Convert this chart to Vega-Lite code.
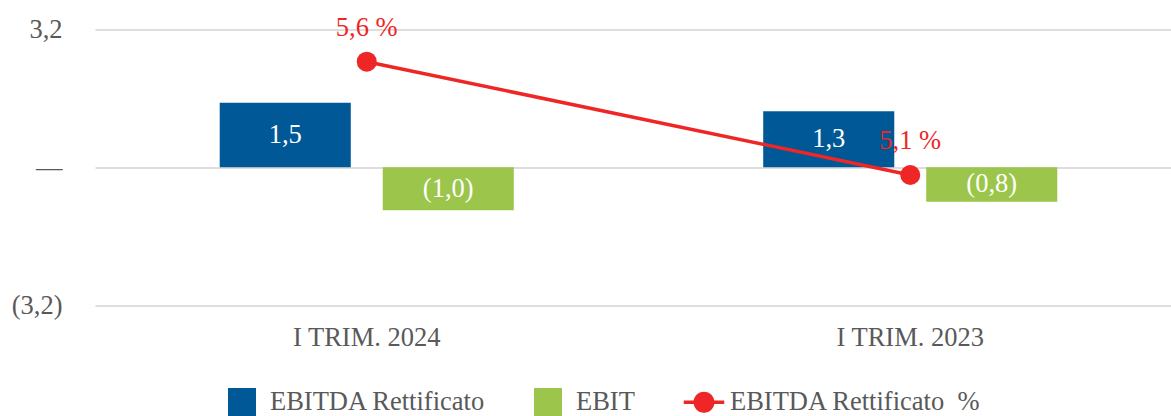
{
  "$schema": "https://vega.github.io/schema/vega-lite/v6.json",
  "width": 1076,
  "height": 275.5,
  "autosize": {"type": "none"},
  "padding": {"left": 95, "top": 29.5, "right": 0, "bottom": 111},
  "background": "white",
  "config": {
    "view": {"stroke": null},
    "font": "Liberation Serif",
    "axis": {"labelFont": "Liberation Serif", "labelFontSize": 26.5, "labelColor": "#595959"}
  },
  "datasets": {
    "bars": [
      {"periodo": "I TRIM. 2024", "serie": "EBITDA Rettificato", "valore": 1.5, "etichetta": "1,5"},
      {"periodo": "I TRIM. 2024", "serie": "EBIT", "valore": -1.0, "etichetta": "(1,0)"},
      {"periodo": "I TRIM. 2023", "serie": "EBITDA Rettificato", "valore": 1.3, "etichetta": "1,3"},
      {"periodo": "I TRIM. 2023", "serie": "EBIT", "valore": -0.8, "etichetta": "(0,8)"}
    ],
    "margine": [
      {"periodo": "I TRIM. 2024", "pct": 5.6, "etichetta": "5,6 %"},
      {"periodo": "I TRIM. 2023", "pct": 5.1, "etichetta": "5,1 %"}
    ]
  },
  "layer": [
    {
      "data": {"name": "bars"},
      "layer": [
        {
          "mark": {"type": "bar"},
          "encoding": {
            "x": {
              "field": "periodo", "type": "nominal",
              "sort": ["I TRIM. 2024", "I TRIM. 2023"],
              "scale": {"range": [0, 1087], "paddingInner": 0, "paddingOuter": 0},
              "axis": {"title": null, "domain": false, "ticks": false, "tickSize": 0, "labelPadding": 40, "labelBaseline": "alphabetic", "labelAngle": 0, "labelLimit": 400}
            },
            "xOffset": {
              "field": "serie", "type": "nominal",
              "sort": ["EBITDA Rettificato", "EBIT"],
              "scale": {"paddingInner": 0.196, "paddingOuter": 0.765}
            },
            "y": {
              "field": "valore", "type": "quantitative",
              "scale": {"domain": [-3.2, 3.2], "nice": false, "zero": true},
              "axis": {
                "title": null, "domain": false, "ticks": false, "tickSize": 0,
                "values": [-3.2, 0, 3.2],
                "labelPadding": 33,
                "grid": true, "gridColor": "#dedede", "gridWidth": 2,
                "labelExpr": "datum.value == 0 ? '—' : (datum.value > 0 ? replace(format(datum.value, '.1f'), '.', ',') : '(' + replace(format(-datum.value, '.1f'), '.', ',') + ')')"
              }
            },
            "color": {
              "field": "serie", "type": "nominal",
              "scale": {
                "domain": ["EBITDA Rettificato", "EBIT", "EBITDA Rettificato \u00a0%"],
                "range": ["#005896", "#9BC64B", "#EE2625"]
              },
              "legend": {
                "title": null,
                "orient": "none",
                "legendX": 133,
                "legendY": 358.5,
                "direction": "horizontal",
                "padding": 0,
                "symbolSize": 784,
                "symbolStrokeWidth": 0,
                "labelFont": "Liberation Serif",
                "labelFontSize": 26.5,
                "labelColor": "#595959",
                "labelLimit": 400,
                "labelOffset": 14,
                "columnPadding": 48,
                "encode": {
                  "symbols": {
                    "update": {
                      "shape": {"signal": "indexof(datum.label, '%') >= 0 ? 'M-1.45,-0.12L1.45,-0.12L1.45,0.12L-1.45,0.12Z M-0.75,0A0.75,0.75 0 1,1 0.75,0A0.75,0.75 0 1,1 -0.75,0Z' : 'square'"},
                      "fill": {"signal": "indexof(datum.label, '%') >= 0 ? '#EE2625' : (datum.label == 'EBIT' ? '#9BC64B' : '#005896')"},
                      "strokeWidth": {"value": 0},
                      "x": {"signal": "indexof(datum.label, '%') >= 0 ? 7 : 14"}
                    }
                  },
                  "labels": {
                    "update": {
                      "dx": {"signal": "indexof(datum.label, '%') >= 0 ? -9 : 0"}
                    }
                  }
                }
              }
            }
          }
        },
        {
          "mark": {"type": "text", "color": "white", "font": "Liberation Serif", "fontSize": 26.5, "baseline": "middle", "align": "center"},
          "encoding": {
            "x": {"field": "periodo", "type": "nominal", "sort": ["I TRIM. 2024", "I TRIM. 2023"]},
            "xOffset": {"field": "serie", "type": "nominal", "sort": ["EBITDA Rettificato", "EBIT"]},
            "y": {"field": "valore", "type": "quantitative", "stack": "zero", "bandPosition": 0.5},
            "text": {"field": "etichetta"}
          }
        }
      ]
    },
    {
      "data": {"name": "margine"},
      "layer": [
        {
          "mark": {"type": "line", "color": "#EE2625", "strokeWidth": 3.5},
          "encoding": {
            "x": {"field": "periodo", "type": "nominal", "sort": ["I TRIM. 2024", "I TRIM. 2023"]},
            "y": {"field": "pct", "type": "quantitative", "scale": {"domain": [4.526, 5.742], "nice": false, "zero": false}, "axis": null}
          }
        },
        {
          "mark": {"type": "point", "filled": true, "color": "#EE2625", "opacity": 1, "size": 400},
          "encoding": {
            "x": {"field": "periodo", "type": "nominal", "sort": ["I TRIM. 2024", "I TRIM. 2023"]},
            "y": {"field": "pct", "type": "quantitative"}
          }
        },
        {
          "mark": {"type": "text", "color": "#EE2625", "font": "Liberation Serif", "fontSize": 26.5, "baseline": "middle", "align": "center", "dy": -34},
          "encoding": {
            "x": {"field": "periodo", "type": "nominal", "sort": ["I TRIM. 2024", "I TRIM. 2023"]},
            "y": {"field": "pct", "type": "quantitative"},
            "text": {"field": "etichetta"}
          }
        }
      ]
    }
  ],
  "resolve": {"scale": {"y": "independent"}}
}
